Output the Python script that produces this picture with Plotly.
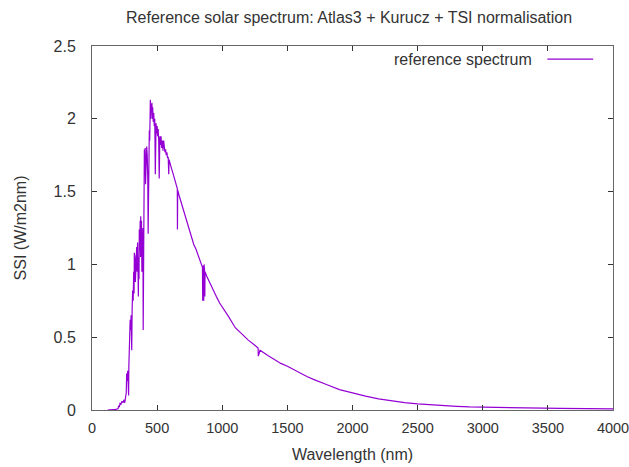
import plotly.graph_objects as go

wavelength = [
    120, 150, 180, 200, 205, 210, 215, 222, 230, 238, 246, 252, 258, 263, 266, 270, 274, 278, 281, 283,
    287, 290, 293, 297, 300, 303, 305, 308, 312, 316, 320, 323, 325, 328, 330, 333, 336, 339, 343, 346,
    350, 353, 356, 358, 361, 363, 366, 370, 373, 374, 377, 380, 383, 386, 389, 391, 393, 395, 397, 399,
    402, 405, 408, 411, 414, 417, 420, 424, 428, 431, 434, 437, 440, 443, 446, 448, 451, 454, 457, 460,
    463, 466, 470, 474, 478, 482, 486, 488, 492, 496, 500, 504, 508, 512, 516, 518, 521, 525, 530, 535,
    540, 545, 550, 555, 560, 565, 570, 575, 580, 585, 589, 592, 600, 610, 620, 630, 640, 650, 655, 656,
    658, 670, 680, 690, 700, 720, 740, 760, 780, 800, 820, 840, 848, 850, 852, 856, 858, 860, 864, 866,
    868, 880, 900, 920, 940, 960, 980, 1000, 1050, 1100, 1150, 1200, 1250, 1275, 1277, 1290,
    1350, 1400, 1450, 1500, 1550, 1600, 1650, 1700, 1750, 1800, 1900, 2000, 2100, 2200, 2300, 2400, 2500,
    2600, 2700, 2800, 2900, 3000, 3200, 3400, 3600, 3800, 4000,
]
ssi = [
    0.0, 0.001, 0.004, 0.008, 0.03, 0.02, 0.045, 0.04, 0.06, 0.05, 0.07, 0.05, 0.09, 0.12, 0.25, 0.20, 0.27, 0.18, 0.10, 0.30,
    0.60, 0.45, 0.62, 0.55, 0.65, 0.50, 0.41, 0.68, 0.82, 0.75, 0.95, 0.80, 1.08, 0.95, 1.05, 0.88, 1.00, 0.90, 1.12, 0.95,
    1.15, 0.98, 0.78, 1.05, 0.90, 1.24, 1.10, 1.30, 1.05, 1.33, 1.20, 1.30, 0.95, 1.15, 1.00, 1.25, 0.55, 1.10, 0.60, 1.45,
    1.79, 1.65, 1.80, 1.55, 1.78, 1.70, 1.81, 1.75, 1.60, 1.21, 1.70, 1.88, 1.92, 1.85, 2.05, 2.13, 2.00, 2.10, 2.05, 2.11,
    2.00, 2.08, 1.98, 2.04, 1.95, 2.00, 1.62, 1.92, 1.97, 1.90, 1.95, 1.88, 1.93, 1.85, 1.59, 1.70, 1.88, 1.82, 1.88, 1.80,
    1.85, 1.78, 1.85, 1.80, 1.77, 1.79, 1.75, 1.77, 1.73, 1.74, 1.62, 1.72, 1.70, 1.66, 1.63, 1.60, 1.56, 1.53, 1.52, 1.24,
    1.51, 1.47, 1.44, 1.40, 1.37, 1.31, 1.26, 1.20, 1.14, 1.10, 1.05, 1.00, 0.98, 0.75, 0.99, 0.97, 0.75, 1.00, 0.96, 0.78,
    0.95, 0.92, 0.88, 0.84, 0.80, 0.77, 0.735, 0.71, 0.64, 0.565, 0.52, 0.48, 0.445, 0.425, 0.37, 0.41,
    0.375, 0.345, 0.32, 0.30, 0.275, 0.25, 0.23, 0.21, 0.19, 0.175, 0.14, 0.115, 0.095, 0.077, 0.062, 0.051, 0.042,
    0.035, 0.030, 0.025, 0.021, 0.019, 0.016, 0.013, 0.011, 0.009, 0.008,
]

x_ticks = [0, 500, 1000, 1500, 2000, 2500, 3000, 3500, 4000]
y_ticks = [0, 0.5, 1, 1.5, 2, 2.5]
y_tick_labels = ["0", "0.5", "1", "1.5", "2", "2.5"]

title_text = "Reference solar spectrum: Atlas3 + Kurucz + TSI normalisation"
x_title = "Wavelength (nm)"
y_title = "SSI (W/m2nm)"
series_name = "reference spectrum"

color = "#9400D3"
font = "Liberation Sans, Arial, sans-serif"
txt = "#333333"
fs = 16

fig = go.Figure()
fig.add_trace(go.Scatter(x=wavelength, y=ssi, mode="lines", name=series_name,
                         line=dict(color=color, width=1.2), showlegend=False))

axis_common = dict(showline=True, linecolor="#666666", linewidth=1, mirror="ticks",
                   ticks="inside", ticklen=5, tickcolor="#333333", tickwidth=1,
                   showgrid=False, zeroline=False, automargin=False,
                   ticklabeloverflow="allow")

fig.update_layout(
    width=629, height=467,
    margin=dict(l=92, r=16, t=46, b=57, autoexpand=False),
    paper_bgcolor="white", plot_bgcolor="white",
    title=dict(text=title_text, x=0.555, xanchor="center", y=0.963, yanchor="middle",
               font=dict(family=font, size=fs, color=txt)),
    xaxis=dict(range=[0, 4000], tickvals=x_ticks, ticklabelstandoff=5,
               tickfont=dict(family=font, size=14.5, color=txt),
               title=dict(text=x_title, standoff=13, font=dict(family=font, size=fs, color=txt)),
               **axis_common),
    yaxis=dict(range=[0, 2.5], tickvals=y_ticks, ticktext=y_tick_labels, ticklabelstandoff=12,
               tickfont=dict(family=font, size=fs, color=txt),
               title=dict(text=y_title, standoff=22, font=dict(family=font, size=fs, color=txt)),
               **axis_common),
)

fig.add_annotation(xref="paper", yref="paper", x=0.848, y=0.964, xanchor="right", yanchor="middle",
                   text=series_name, showarrow=False,
                   font=dict(family=font, size=fs, color=txt))
fig.add_shape(type="line", xref="paper", yref="paper", x0=0.874, x1=0.962, y0=0.964, y1=0.964,
              line=dict(color=color, width=1.2))

fig.write_html("out.html", config={"displayModeBar": False})

with open("out.html", "r", encoding="utf-8") as f:
    html = f.read()
html = html.replace("<body>", '<body style="margin:0;padding:0;overflow:hidden">', 1)
with open("out.html", "w", encoding="utf-8") as f:
    f.write(html)
